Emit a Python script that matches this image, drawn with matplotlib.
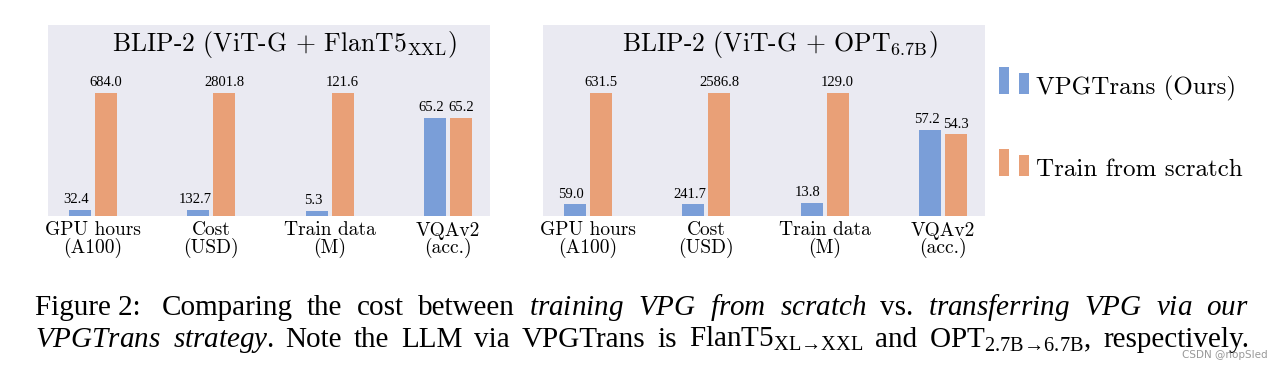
import matplotlib
matplotlib.use('Agg')
import matplotlib.pyplot as plt
import numpy as np
from matplotlib.legend_handler import HandlerBase
from matplotlib.patches import Rectangle

plt.rcParams['mathtext.fontset'] = 'cm'
plt.rcParams['mathtext.rm'] = 'Liberation Serif'
plt.rcParams['mathtext.it'] = 'Liberation Serif:italic'

categories = ['GPU hours\n(A100)', 'Cost\n(USD)', 'Train data\n(M)', 'VQAv2\n(acc.)']
titles = [r'BLIP-2 (ViT-G + FlanT5$_{\mathrm{XXL}}$)', r'BLIP-2 (ViT-G + OPT$_{\mathrm{6.7B}}$)']
ours = [[32.4, 132.7, 5.3, 65.2], [59.0, 241.7, 13.8, 57.2]]
scratch = [[684.0, 2801.8, 121.6, 65.2], [631.5, 2586.8, 129.0, 54.3]]
series_names = ['VPGTrans (Ours)', 'Train from scratch']
acc_scale = 82.0  # accuracy is drawn as value / acc_scale

caption_lines = [
    ['Figure 2: ', 'Comparing', 'the', 'cost', 'between', r'$\mathit{training}$', r'$\mathit{VPG}$',
     r'$\mathit{from}$', r'$\mathit{scratch}$', 'vs.', r'$\mathit{transferring}$', r'$\mathit{VPG}$',
     r'$\mathit{via}$', r'$\mathit{our}$'],
    [r'$\mathit{VPGTrans}$', r'$\mathit{strategy}$.', 'Note', 'the', 'LLM', 'via', 'VPGTrans', 'is',
     r'FlanT5$_{\mathrm{XL→XXL}}$', 'and', r'OPT$_{\mathrm{2.7B→6.7B}}$,', 'respectively.'],
]

BLUE = '#7a9ed8'
ORANGE = '#e9a077'
BG = '#eaeaf2'
SERIF = 'Liberation Serif'
CM = 'cmr10'


class TwoBarHandler(HandlerBase):
    # legend key drawn as two small bars, the left one taller
    def create_artists(self, legend, orig, xd, yd, w, h, fs, trans):
        c = orig.get_facecolor()
        bw = fs * 0.42
        r1 = Rectangle((-xd, 0), bw, fs * 1.1, fc=c, ec='none', transform=trans)
        r2 = Rectangle((-xd + w - bw, 0), bw, fs * 0.85, fc=c, ec='none', transform=trans)
        return [r1, r2]


fig = plt.figure(figsize=(12.8, 3.71), dpi=100)
W, H = 1280, 371
panels = [(48, 490), (543, 985)]
top, bottom = 25, 216

x = np.arange(len(categories))
bw = 0.186
off = 0.11
for k, (l, r) in enumerate(panels):
    ax = fig.add_axes([l / W, 1 - bottom / H, (r - l) / W, (bottom - top) / H])
    ax.set_facecolor(BG)
    o = np.array(ours[k])
    s = np.array(scratch[k])
    norm = np.maximum(o, s)
    norm[-1] = acc_scale
    b1 = ax.bar(x - off, o / norm, bw, color=BLUE, label=series_names[0])
    b2 = ax.bar(x + off, s / norm, bw, color=ORANGE, label=series_names[1])
    for bars, vals, dx in ((b1, o, -0.03), (b2, s, 0.0)):
        for b, v in zip(bars, vals):
            ax.text(b.get_x() + b.get_width() / 2 + dx, b.get_height() + 0.03, f'{v:.1f}',
                    ha='center', va='bottom', fontsize=10.5, family=SERIF)
    ax.set_xlim(-0.38, 3.355)
    ax.set_ylim(0, 1.55)
    ax.set_yticks([])
    ax.set_xticks(x)
    ax.set_xticklabels(categories, family=CM, fontsize=14, linespacing=0.9)
    ax.tick_params(axis='x', length=0, pad=4)
    for sp in ax.spines.values():
        sp.set_visible(False)
    ax.text(0.535, 0.864, titles[k], transform=ax.transAxes, ha='center', va='baseline',
            family=CM, fontsize=18.5)

fig.legend(handles=[b1[0], b2[0]], labels=series_names, handler_map={Rectangle: TwoBarHandler()},
           loc='upper left', bbox_to_anchor=(976 / W, 1 - 51 / H), frameon=False,
           prop={'family': CM, 'size': 18}, handlelength=1.23, handleheight=1.1,
           handletextpad=0.28, labelspacing=2.2)

# justified two-line caption
renderer = fig.canvas.get_renderer()
x0, x1 = 35, 1249
for words, yb in zip(caption_lines, (315, 347)):
    arts = [fig.text(0, 1 - yb / H, w, family=SERIF, fontsize=21, va='baseline', ha='left',
                     math_fontfamily='custom') for w in words]
    widths = [a.get_window_extent(renderer).width for a in arts]
    gap = (x1 - x0 - sum(widths)) / (len(arts) - 1)
    pos = x0
    for a, wd in zip(arts, widths):
        a.set_x(pos / W)
        pos += wd + gap

fig.text(1268 / W, 1 - 355 / H, 'CSDN @nopSled', family='DejaVu Sans', fontsize=7.5,
         color='#999999', ha='right', va='center')

fig.savefig('out.png', dpi=100, facecolor='white')
